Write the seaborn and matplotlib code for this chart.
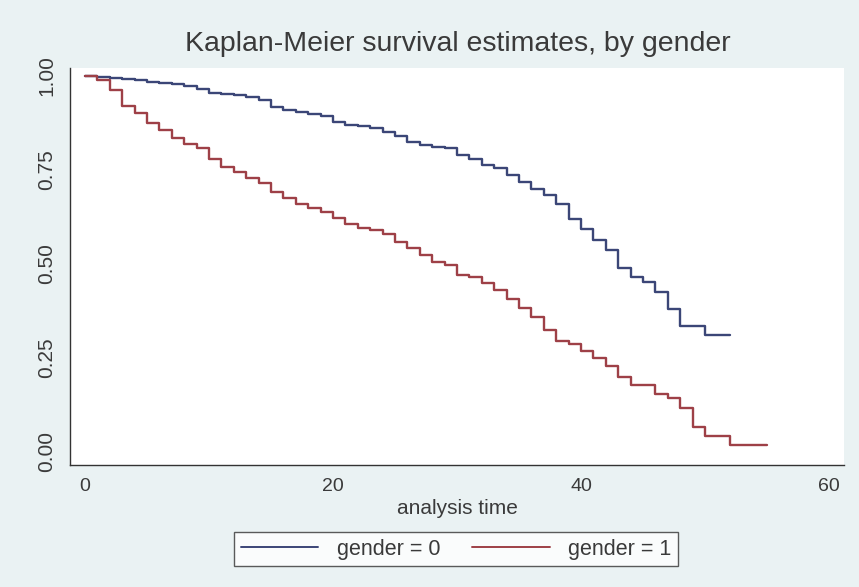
import numpy as np
import pandas as pd
import matplotlib
matplotlib.use("Agg")
import matplotlib.pyplot as plt
import seaborn as sns

# ---- data ----
time_g0 = [0, 1, 2, 3, 4, 5, 6, 7, 8, 9, 10, 11, 12, 13, 14, 15, 16, 17, 18, 19,
           20, 21, 22, 23, 24, 25, 26, 27, 28, 29, 30, 31, 32, 33, 34, 35, 36, 37,
           38, 39, 40, 41, 42, 43, 44, 45, 46, 47, 48, 50, 52]
surv_g0 = [1.000, 0.997, 0.994, 0.991, 0.988, 0.985, 0.982, 0.979, 0.973, 0.965,
           0.954, 0.951, 0.948, 0.944, 0.935, 0.918, 0.908, 0.903, 0.899, 0.892,
           0.878, 0.870, 0.867, 0.861, 0.852, 0.840, 0.825, 0.815, 0.812, 0.809,
           0.790, 0.778, 0.763, 0.754, 0.737, 0.719, 0.700, 0.684, 0.660, 0.620,
           0.593, 0.564, 0.537, 0.489, 0.466, 0.453, 0.424, 0.381, 0.335, 0.310,
           0.310]

time_g1 = [0, 1, 2, 3, 4, 5, 6, 7, 8, 9, 10, 11, 12, 13, 14, 15, 16, 17, 18, 19,
           20, 21, 22, 23, 24, 25, 26, 27, 28, 29, 30, 31, 32, 33, 34, 35, 36, 37,
           38, 39, 40, 41, 42, 43, 44, 46, 47, 48, 49, 50, 52, 55]
surv_g1 = [1.000, 0.989, 0.963, 0.920, 0.902, 0.876, 0.856, 0.836, 0.819, 0.808,
           0.778, 0.759, 0.745, 0.728, 0.715, 0.692, 0.676, 0.658, 0.649, 0.639,
           0.621, 0.606, 0.595, 0.590, 0.580, 0.559, 0.543, 0.524, 0.506, 0.497,
           0.471, 0.464, 0.449, 0.431, 0.406, 0.382, 0.358, 0.323, 0.296, 0.287,
           0.269, 0.249, 0.229, 0.199, 0.178, 0.153, 0.143, 0.116, 0.066, 0.043,
           0.019, 0.019]

groups = ["gender = 0", "gender = 1"]
x_ticks = [0, 20, 40, 60]
y_ticks = [0.00, 0.25, 0.50, 0.75, 1.00]
y_tick_labels = ["0.00", "0.25", "0.50", "0.75", "1.00"]
title = "Kaplan-Meier survival estimates, by gender"
x_label = "analysis time"

df = pd.concat([
    pd.DataFrame({"time": time_g0, "survival": surv_g0, "group": groups[0]}),
    pd.DataFrame({"time": time_g1, "survival": surv_g1, "group": groups[1]}),
], ignore_index=True)

# ---- style ----
sns.set_style("white")
plt.rcParams["font.family"] = ["Liberation Sans", "DejaVu Sans"]

bg = "#eaf2f3"
text_col = "#3a3a3a"
palette = {groups[0]: "#3b4677", groups[1]: "#9e4047"}

fig = plt.figure(figsize=(8.59, 5.87), dpi=100, facecolor=bg)
ax = fig.add_axes([0.0815, 0.2078, 0.901, 0.677])
ax.set_facecolor("white")

sns.lineplot(data=df, x="time", y="survival", hue="group", palette=palette,
             estimator=None, sort=False, drawstyle="steps-post",
             linewidth=1.7, ax=ax, legend=False)

ax.set_xlim(-1.21, 61.2)
ax.set_ylim(-0.035, 1.035 - 0.013)
ax.set_xticks(x_ticks)
ax.set_xticklabels([str(v) for v in x_ticks])
ax.set_yticks(y_ticks)
ax.set_yticklabels(y_tick_labels, rotation=90, va="center")
ax.tick_params(axis="both", direction="out", length=5, width=1,
               color="#333333", labelcolor=text_col, pad=4)
ax.tick_params(axis="x", labelsize=14)
ax.tick_params(axis="y", labelsize=15, pad=5)

for s in ["top", "right"]:
    ax.spines[s].set_visible(False)
for s in ["left", "bottom"]:
    ax.spines[s].set_color("#333333")
    ax.spines[s].set_linewidth(1.0)

ax.set_xlabel(x_label, fontsize=15, color=text_col, labelpad=3)
ax.set_ylabel("")
fig.text(0.533, 0.925, title, ha="center", va="center", fontsize=20.5,
         color=text_col)

handles = [plt.Line2D([], [], color=palette[g], linewidth=1.4) for g in groups]
leg = fig.legend(handles, groups, loc="center", bbox_to_anchor=(0.531, 0.064),
                 ncol=2, fontsize=15.5, frameon=True, fancybox=False,
                 handlelength=3.6, handletextpad=0.85, columnspacing=1.5,
                 borderpad=0.3, labelcolor=text_col)
leg.get_frame().set_edgecolor("#333333")
leg.get_frame().set_linewidth(1.0)
leg.get_frame().set_facecolor("white")

fig.savefig("out.png", dpi=100, facecolor=bg)
